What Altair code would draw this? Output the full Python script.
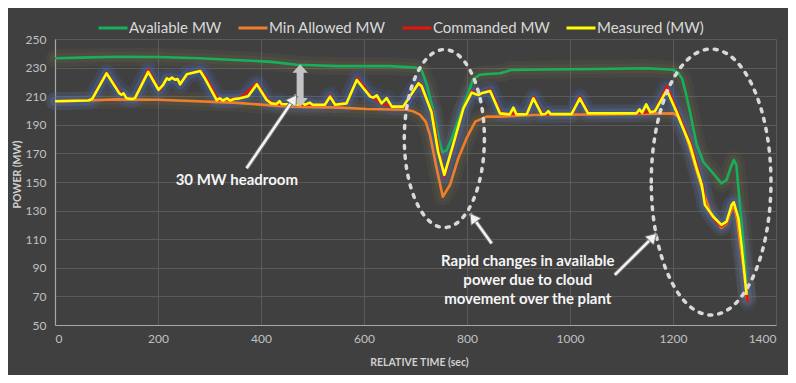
import altair as alt
import pandas as pd

# ---------------- data ----------------
series_names = ["Avaliable MW", "Min Allowed MW", "Commanded MW", "Measured (MW)"]
series_colors = ["#16b05a", "#f07d2a", "#e8140c", "#ffff00"]

avail_t = [0, 50, 120, 200, 280, 380, 420, 470, 550, 650, 700, 712, 722, 735, 745, 752,
           760, 770, 785, 800, 812, 825, 840, 865, 885, 950, 1050, 1150, 1200, 1210, 1218,
           1225, 1233, 1246, 1259, 1278, 1294, 1304, 1312, 1318, 1323, 1330, 1337, 1344]
avail_v = [236.5, 237, 237.6, 237.4, 236.5, 234.8, 234, 232, 231, 231, 230, 228, 218, 199, 180, 171,
           172, 180, 195, 210, 222, 225, 225.5, 226, 228.3, 228.7, 229, 229.5, 228.5, 226.5, 222,
           212, 199, 176, 164, 156, 149, 151.4, 160, 165.4, 162, 134, 106, 70]

minall_t = [0, 60, 120, 200, 346, 456, 553, 605, 683, 695, 709, 720, 728, 741, 753, 767, 783,
            799, 816, 838, 864, 929, 1058, 1201, 1210, 1222, 1233, 1252, 1272, 1294, 1304, 1314,
            1318, 1324, 1330, 1337, 1344]
minall_v = [206.4, 207, 207.8, 207.5, 205.5, 202.7, 202, 201, 200.5, 199.5, 196.9, 192, 183, 159.6,
            139.7, 147.9, 166.5, 180.5, 192.2, 195.7, 195.7, 196.9, 197.3, 198, 195.7, 186, 173.5,
            150.2, 129.3, 118, 121, 131, 133.5, 125, 108, 90, 68]

cmd_t = [0, 65, 72, 100, 127, 133, 139, 155, 181, 203, 217, 238, 243, 256, 282, 294, 317, 359,
         392, 413, 430, 500, 524, 534, 544, 566, 587, 614, 634, 654, 676, 707, 733, 746, 756, 773,
         793, 809, 822, 845, 866, 916, 929, 946, 1003, 1019, 1036, 1129, 1165, 1188, 1209, 1219,
         1235, 1248, 1252, 1258, 1263, 1279, 1294, 1304, 1314, 1318, 1327, 1333, 1345]
cmd_v = [206.5, 207, 208, 226.5, 212, 212, 208.5, 208.5, 228.5, 214, 222.5, 222, 218.3, 225.3, 228,
         222.5, 207.3, 208.5, 219, 207.3, 204.5, 204, 204, 210.5, 204, 205, 222.5, 209.7, 205, 202.7,
         202.7, 219.5, 199, 171, 153.5, 175, 201.5, 213.5, 210.8, 214.5, 198, 197.3, 209.5, 197.3,
         197.5, 209.5, 198, 198, 199.5, 217, 199, 189.9, 176, 159.6, 152, 147, 134, 124.5, 119,
         121.5, 133.5, 135.3, 124, 105, 66]

meas_t = [0, 65, 72, 100, 125, 129, 133, 139, 150, 155, 181, 201, 210, 217, 222, 227, 233, 238,
          243, 256, 270, 282, 291, 314, 320, 326, 334, 340, 348, 359, 375, 392, 411, 420, 430, 436,
          440, 470, 480, 485, 495, 500, 524, 534, 544, 566, 586, 612, 618, 625, 634, 644, 654, 676,
          706, 712, 731, 744, 756, 773, 793, 809, 816, 822, 828, 845, 864, 883, 890, 896, 916, 929,
          945, 952, 958, 962, 1003, 1019, 1035, 1129, 1135, 1140, 1148, 1156, 1165, 1188, 1207,
          1217, 1233, 1246, 1256, 1262, 1278, 1294, 1304, 1314, 1318, 1327, 1333, 1343]
meas_v = [206.5, 207, 208, 226, 212, 211, 212, 208.5, 208, 208.5, 227, 214.5, 218, 222.5, 221.5,
          223, 221.5, 222, 218.3, 225.3, 226.5, 227.6, 222.5, 207.3, 208.5, 207, 208.5, 207, 208,
          208.5, 210, 218.3, 207.3, 205, 204.5, 206.5, 204.5, 204, 205.5, 204, 205.5, 204, 204,
          209.7, 204, 205, 221.3, 209.7, 209, 210.5, 205, 208.6, 202.7, 202.7, 219, 217, 199, 171,
          155, 176, 201.5, 212.5, 211.5, 210.8, 212, 213.6, 198, 197.3, 202, 197.3, 197.3, 208.5,
          197.3, 197.5, 199.6, 197.5, 197.5, 208.5, 198, 198, 200.7, 198.5, 204.3, 198.7, 199.5,
          214.3, 199, 189.9, 176, 159.6, 147.9, 134, 125.7, 120, 122.3, 134, 135.8, 124.6, 106, 71]

x_ticks = [0, 200, 400, 600, 800, 1000, 1200, 1400]
y_ticks = [50, 70, 90, 110, 130, 150, 170, 190, 210, 230, 250]

# annotations (data coordinates)
headroom_t = [476]
headroom_lo = [202.7]
headroom_hi = [232.3]
headroom_shaft = [206, 229]

arrow_tail_t = [372, 848, 1087]
arrow_tail_v = [159.6, 107, 85]
arrow_tip_t = [469, 806, 1168]
arrow_tip_v = [210.8, 128, 114]
arrow_angle = [34, 324, 45]

ellipse_t = [756, 1274]
ellipse_v = [180.4, 150]

label_texts = ["30 MW headroom", "Rapid changes in available", "power due to cloud",
               "movement over the plant"]
label_t = [353, 918, 918, 918]
label_v = [151.4, 95, 81.5, 68.2]

# ---------------- frames ----------------
rows = []
for name, ts, vs in [(series_names[0], avail_t, avail_v), (series_names[1], minall_t, minall_v),
                     (series_names[2], cmd_t, cmd_v), (series_names[3], meas_t, meas_v)]:
    for t, v in zip(ts, vs):
        rows.append({"series": name, "t": t, "v": v})
df = pd.DataFrame(rows)

x_scale = alt.Scale(domain=[0, 1400], nice=False, zero=False)
y_scale = alt.Scale(domain=[50, 250], nice=False, zero=False)
color_scale = alt.Scale(domain=series_names, range=series_colors)

X = alt.X("t:Q", scale=x_scale,
          axis=alt.Axis(values=x_ticks, tickCount=len(x_ticks), format="d", labelOverlap=False,
                        title="RELATIVE TIME (sec)", titleX=364, titleY=37,
                        titleBaseline="middle", labelPadding=8))
Y = alt.Y("v:Q", scale=y_scale,
          axis=alt.Axis(values=y_ticks, tickCount=len(y_ticks), format="d", labelOverlap=False,
                        title="POWER (MW)", titleX=-38, titleY=135,
                        titleAngle=270, titleBaseline="middle", labelPadding=9))

base = alt.Chart(df)

def glow(names, color, width, opacity):
    return base.transform_filter(alt.FieldOneOfPredicate(field="series", oneOf=names)).mark_line(
        strokeWidth=width, opacity=opacity, strokeJoin="round", strokeCap="round", color=color
    ).encode(x=X, y=Y, detail="series:N")

def line(name):
    return base.transform_filter(alt.datum.series == name).mark_line(
        strokeWidth=2.6, strokeJoin="round"
    ).encode(
        x=X, y=Y,
        color=alt.Color("series:N", scale=color_scale,
                        legend=alt.Legend(title=None, orient="none", legendX=42, legendY=-27,
                                          direction="horizontal", symbolType="stroke",
                                          symbolSize=841, symbolStrokeWidth=3,
                                          labelFontSize=15, labelFont="Lato",
                                          labelColor="#d9d9d9", columnPadding=10,
                                          labelOffset=0)),
    )

warm = [series_names[0], series_names[1]]
cool = [series_names[2], series_names[3]]
glow_layers = [
    glow(warm, "#9a8650", 18, 0.08),
    glow(warm, "#9a8650", 10, 0.10),
    glow(cool, "#4a70b8", 18, 0.10),
    glow(cool, "#4a70b8", 10, 0.18),
]
lines = [line(n) for n in series_names]

# double headed headroom arrow
hr_df = pd.DataFrame({"t": headroom_t * 2, "v": [headroom_hi[0], headroom_lo[0]], "a": [0, 180]})
shaft_df = pd.DataFrame({"t": headroom_t, "v1": [headroom_shaft[0]], "v2": [headroom_shaft[1]]})
shaft = alt.Chart(shaft_df).mark_rule(strokeWidth=7, color="#c4c4c4").encode(
    x=alt.X("t:Q", scale=x_scale), y=alt.Y("v1:Q", scale=y_scale), y2="v2:Q")
heads = alt.Chart(hr_df).mark_point(shape="M 0,0 L 1,1.1 L -1,1.1 Z", filled=True, size=240,
                                    color="#c4c4c4", opacity=1).encode(
    x=alt.X("t:Q", scale=x_scale), y=alt.Y("v:Q", scale=y_scale),
    angle=alt.Angle("a:Q", scale=None))

# white pointer arrows
arr_df = pd.DataFrame({"t": arrow_tail_t, "v": arrow_tail_v, "t2": arrow_tip_t, "v2": arrow_tip_v,
                       "a": arrow_angle})
arr_outline = alt.Chart(arr_df).mark_rule(strokeWidth=4.5, color="#6e6e6e").encode(
    x=alt.X("t:Q", scale=x_scale), y=alt.Y("v:Q", scale=y_scale), x2="t2:Q", y2="v2:Q")
arr_shaft = alt.Chart(arr_df).mark_rule(strokeWidth=2.6, color="#f2f2f2").encode(
    x=alt.X("t:Q", scale=x_scale), y=alt.Y("v:Q", scale=y_scale), x2="t2:Q", y2="v2:Q")
arr_head = alt.Chart(arr_df).mark_point(shape="M 0,0 L 0.6,1 L -0.6,1 Z", filled=True, size=420,
                                        color="#f2f2f2", opacity=1, stroke="#6e6e6e",
                                        strokeWidth=0.8).encode(
    x=alt.X("t2:Q", scale=x_scale), y=alt.Y("v2:Q", scale=y_scale),
    angle=alt.Angle("a:Q", scale=None))

# dashed ellipses
ell_df = pd.DataFrame({"t": ellipse_t, "v": ellipse_v, "s": [178 ** 2, 266 ** 2]})
ellipses = alt.Chart(ell_df).mark_point(
    shape="M -0.45,0 A 0.45,1 0 1,1 0.45,0 A 0.45,1 0 1,1 -0.45,0 Z",
    filled=False, strokeWidth=3.5, strokeDash=[3, 7], strokeCap="round", color="#d9d9d9",
    opacity=1).encode(x=alt.X("t:Q", scale=x_scale), y=alt.Y("v:Q", scale=y_scale),
                      size=alt.Size("s:Q", scale=None, legend=None))

# texts
txt_df = pd.DataFrame({"t": label_t, "v": label_v, "text": label_texts})
texts = alt.Chart(txt_df).mark_text(font="Lato", fontSize=15, fontWeight="bold", color="#f5f5f5",
                                    baseline="middle", align="center").encode(
    x=alt.X("t:Q", scale=x_scale), y=alt.Y("v:Q", scale=y_scale), text="text:N")

chart = alt.layer(*glow_layers, *lines, shaft, heads, ellipses, arr_outline, arr_shaft, arr_head,
                  texts).properties(
    width=721, height=286,
    autosize=alt.AutoSizeParams(type="none"),
    padding={"left": 47, "top": 31, "right": 12, "bottom": 50},
    background="#404040",
).configure_view(stroke=None).configure_axis(
    grid=True, gridColor="#5a5a5a", gridWidth=1, ticks=False, labelOverlap=False,
    domainColor="#a8a8a8", domainWidth=1.2,
    labelFont="Lato", labelFontSize=12, labelColor="#c0c0c0",
    titleFont="Lato", titleFontSize=10.5, titleFontWeight="bold", titleColor="#cfcfcf",
).configure_axisY(domain=True).configure_axisX(domain=True)

chart.save("out.html", embed_options={"renderer": "svg", "actions": False})
